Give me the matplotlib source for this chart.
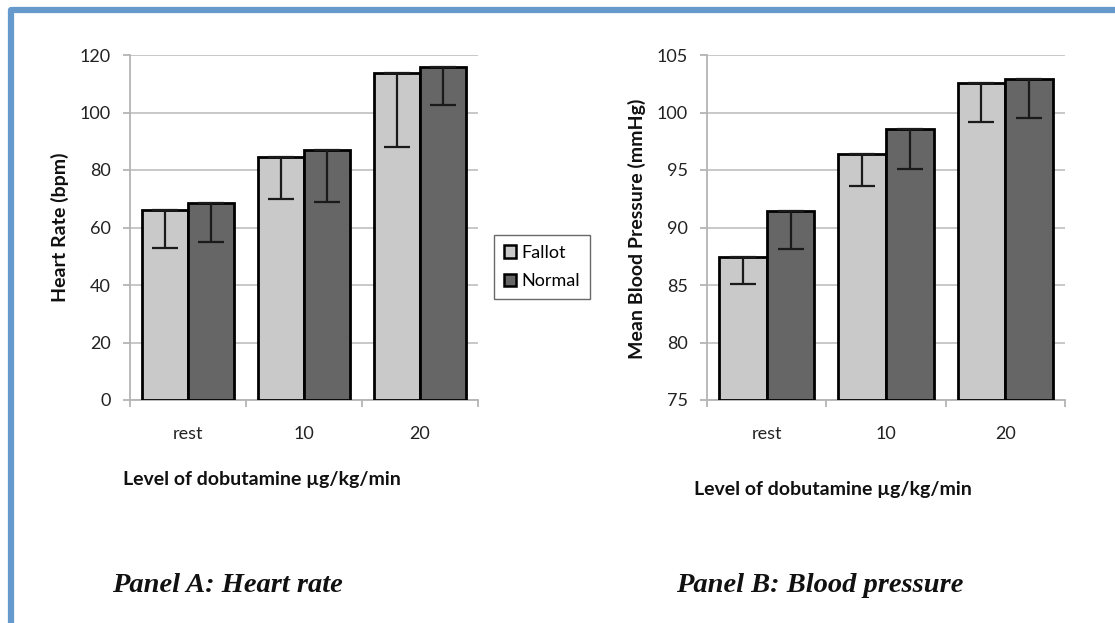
import matplotlib
matplotlib.use("Agg")
import matplotlib.pyplot as plt
import numpy as np
from matplotlib.patches import Patch
from matplotlib.lines import Line2D

# Dobutamine stress levels
categories = ["rest", "10", "20"]
series_names = ["Fallot", "Normal"]

# Heart rate (bpm): means and downward error
hr_fallot = [66, 84.6, 113.9]
hr_fallot_err = [13, 14.7, 26]
hr_normal = [68.4, 87, 115.7]
hr_normal_err = [13.3, 18, 13.1]

# Mean blood pressure (mmHg): means and downward error
bp_fallot = [87.45, 96.4, 102.55]
bp_fallot_err = [2.35, 2.8, 3.35]
bp_normal = [91.45, 98.6, 102.9]
bp_normal_err = [3.35, 3.5, 3.4]

hr_ticks = [0, 20, 40, 60, 80, 100, 120]
bp_ticks = [75, 80, 85, 90, 95, 100, 105]

W, H = 1115, 623
plt.rcParams["font.family"] = ["Lato", "DejaVu Sans"]

fig = plt.figure(figsize=(W / 100, H / 100), dpi=100)
fig.patch.set_facecolor("white")

fallot_color = "#c9c9c9"
normal_color = "#666666"
axis_gray = "#b4b4b4"
tick_fs = 13


def px(x, y):
    return x / W, 1 - y / H


def draw_panel(rect, fallot, fallot_err, normal, normal_err, ticks):
    ax = fig.add_axes(rect)
    x = np.arange(len(categories))
    w = 0.40
    for offs, vals, errs, col in [(-w / 2, fallot, fallot_err, fallot_color),
                                  (w / 2, normal, normal_err, normal_color)]:
        base = ticks[0]
        heights = [v - base for v in vals]
        ax.bar(x + offs, heights, width=w, bottom=base, color=col,
               edgecolor="black", linewidth=2.0, zorder=3)
        ax.errorbar(x + offs, vals, yerr=[errs, [0] * len(errs)], fmt="none",
                    ecolor="#1a1a1a", elinewidth=1.6, capsize=9.5,
                    capthick=1.6, zorder=4)
    ax.set_ylim(ticks[0], ticks[-1])
    ax.set_xlim(-0.5, len(categories) - 0.5)
    ax.set_yticks(ticks)
    ax.set_yticklabels([str(t) for t in ticks], fontsize=tick_fs, color="#222222")
    ax.set_xticks(x)
    ax.set_xticklabels(categories, fontsize=tick_fs, color="#222222")
    ax.set_xticks(np.arange(-0.5, len(categories)), minor=True)
    ax.tick_params(axis="x", which="major", length=0, pad=19)
    ax.tick_params(axis="x", which="minor", length=5, width=1.3, color=axis_gray)
    ax.tick_params(axis="y", length=5, width=1.3, color=axis_gray, pad=9)
    ax.yaxis.grid(True, color="#c4c4c4", linewidth=1.3, zorder=0)
    ax.set_axisbelow(True)
    for s in ["top", "right"]:
        ax.spines[s].set_visible(False)
    for s in ["left", "bottom"]:
        ax.spines[s].set_color(axis_gray)
        ax.spines[s].set_linewidth(1.3)
    return ax


y_top, y_bot = 55, 400
axA = draw_panel([130 / W, 1 - y_bot / H, (478 - 130) / W, (y_bot - y_top) / H],
                 hr_fallot, hr_fallot_err, hr_normal, hr_normal_err, hr_ticks)
axB = draw_panel([707 / W, 1 - y_bot / H, (1065 - 707) / W, (y_bot - y_top) / H],
                 bp_fallot, bp_fallot_err, bp_normal, bp_normal_err, bp_ticks)

# Axis titles
lab_font = dict(fontsize=14, fontweight="bold", color="#111111")
fig.text(*px(60, 227), "Heart Rate (bpm)", rotation=90, ha="center", va="center",
         **lab_font)
fig.text(*px(637, 229), "Mean Blood Pressure (mmHg)", rotation=90, ha="center",
         va="center", **lab_font)
fig.text(*px(262, 479), "Level of dobutamine µg/kg/min", ha="center", va="center",
         **lab_font)
fig.text(*px(833, 489), "Level of dobutamine µg/kg/min", ha="center", va="center",
         **lab_font)

# Panel captions
cap_font = dict(family=["Liberation Serif", "DejaVu Serif"], fontsize=20.5,
                fontweight="bold", fontstyle="italic", color="#111111")
fig.text(*px(227, 585), "Panel A: Heart rate", ha="center", va="center", **cap_font)
fig.text(*px(820, 585), "Panel B: Blood pressure", ha="center", va="center", **cap_font)

# Shared legend
handles = [Patch(facecolor=fallot_color, edgecolor="black", linewidth=1.8),
           Patch(facecolor=normal_color, edgecolor="black", linewidth=1.8)]
leg = fig.legend(handles, series_names, loc="center", bbox_to_anchor=px(542, 267),
                 fontsize=13, frameon=True, fancybox=False, handlelength=0.7,
                 handleheight=0.7, handletextpad=0.3, labelspacing=0.7,
                 borderpad=0.55, borderaxespad=0)
leg.get_frame().set_edgecolor("#444444")
leg.get_frame().set_linewidth(1.0)

# Blue frame along the left and top edges
frame_col = "#6699cc"
fig.add_artist(Line2D([10.5 / W, 10.5 / W, 1.0], [0.0, 1 - 9.7 / H, 1 - 9.7 / H],
                      transform=fig.transFigure, color=frame_col, linewidth=4.5,
                      solid_joinstyle="round"))

fig.savefig("out.png", dpi=100)
